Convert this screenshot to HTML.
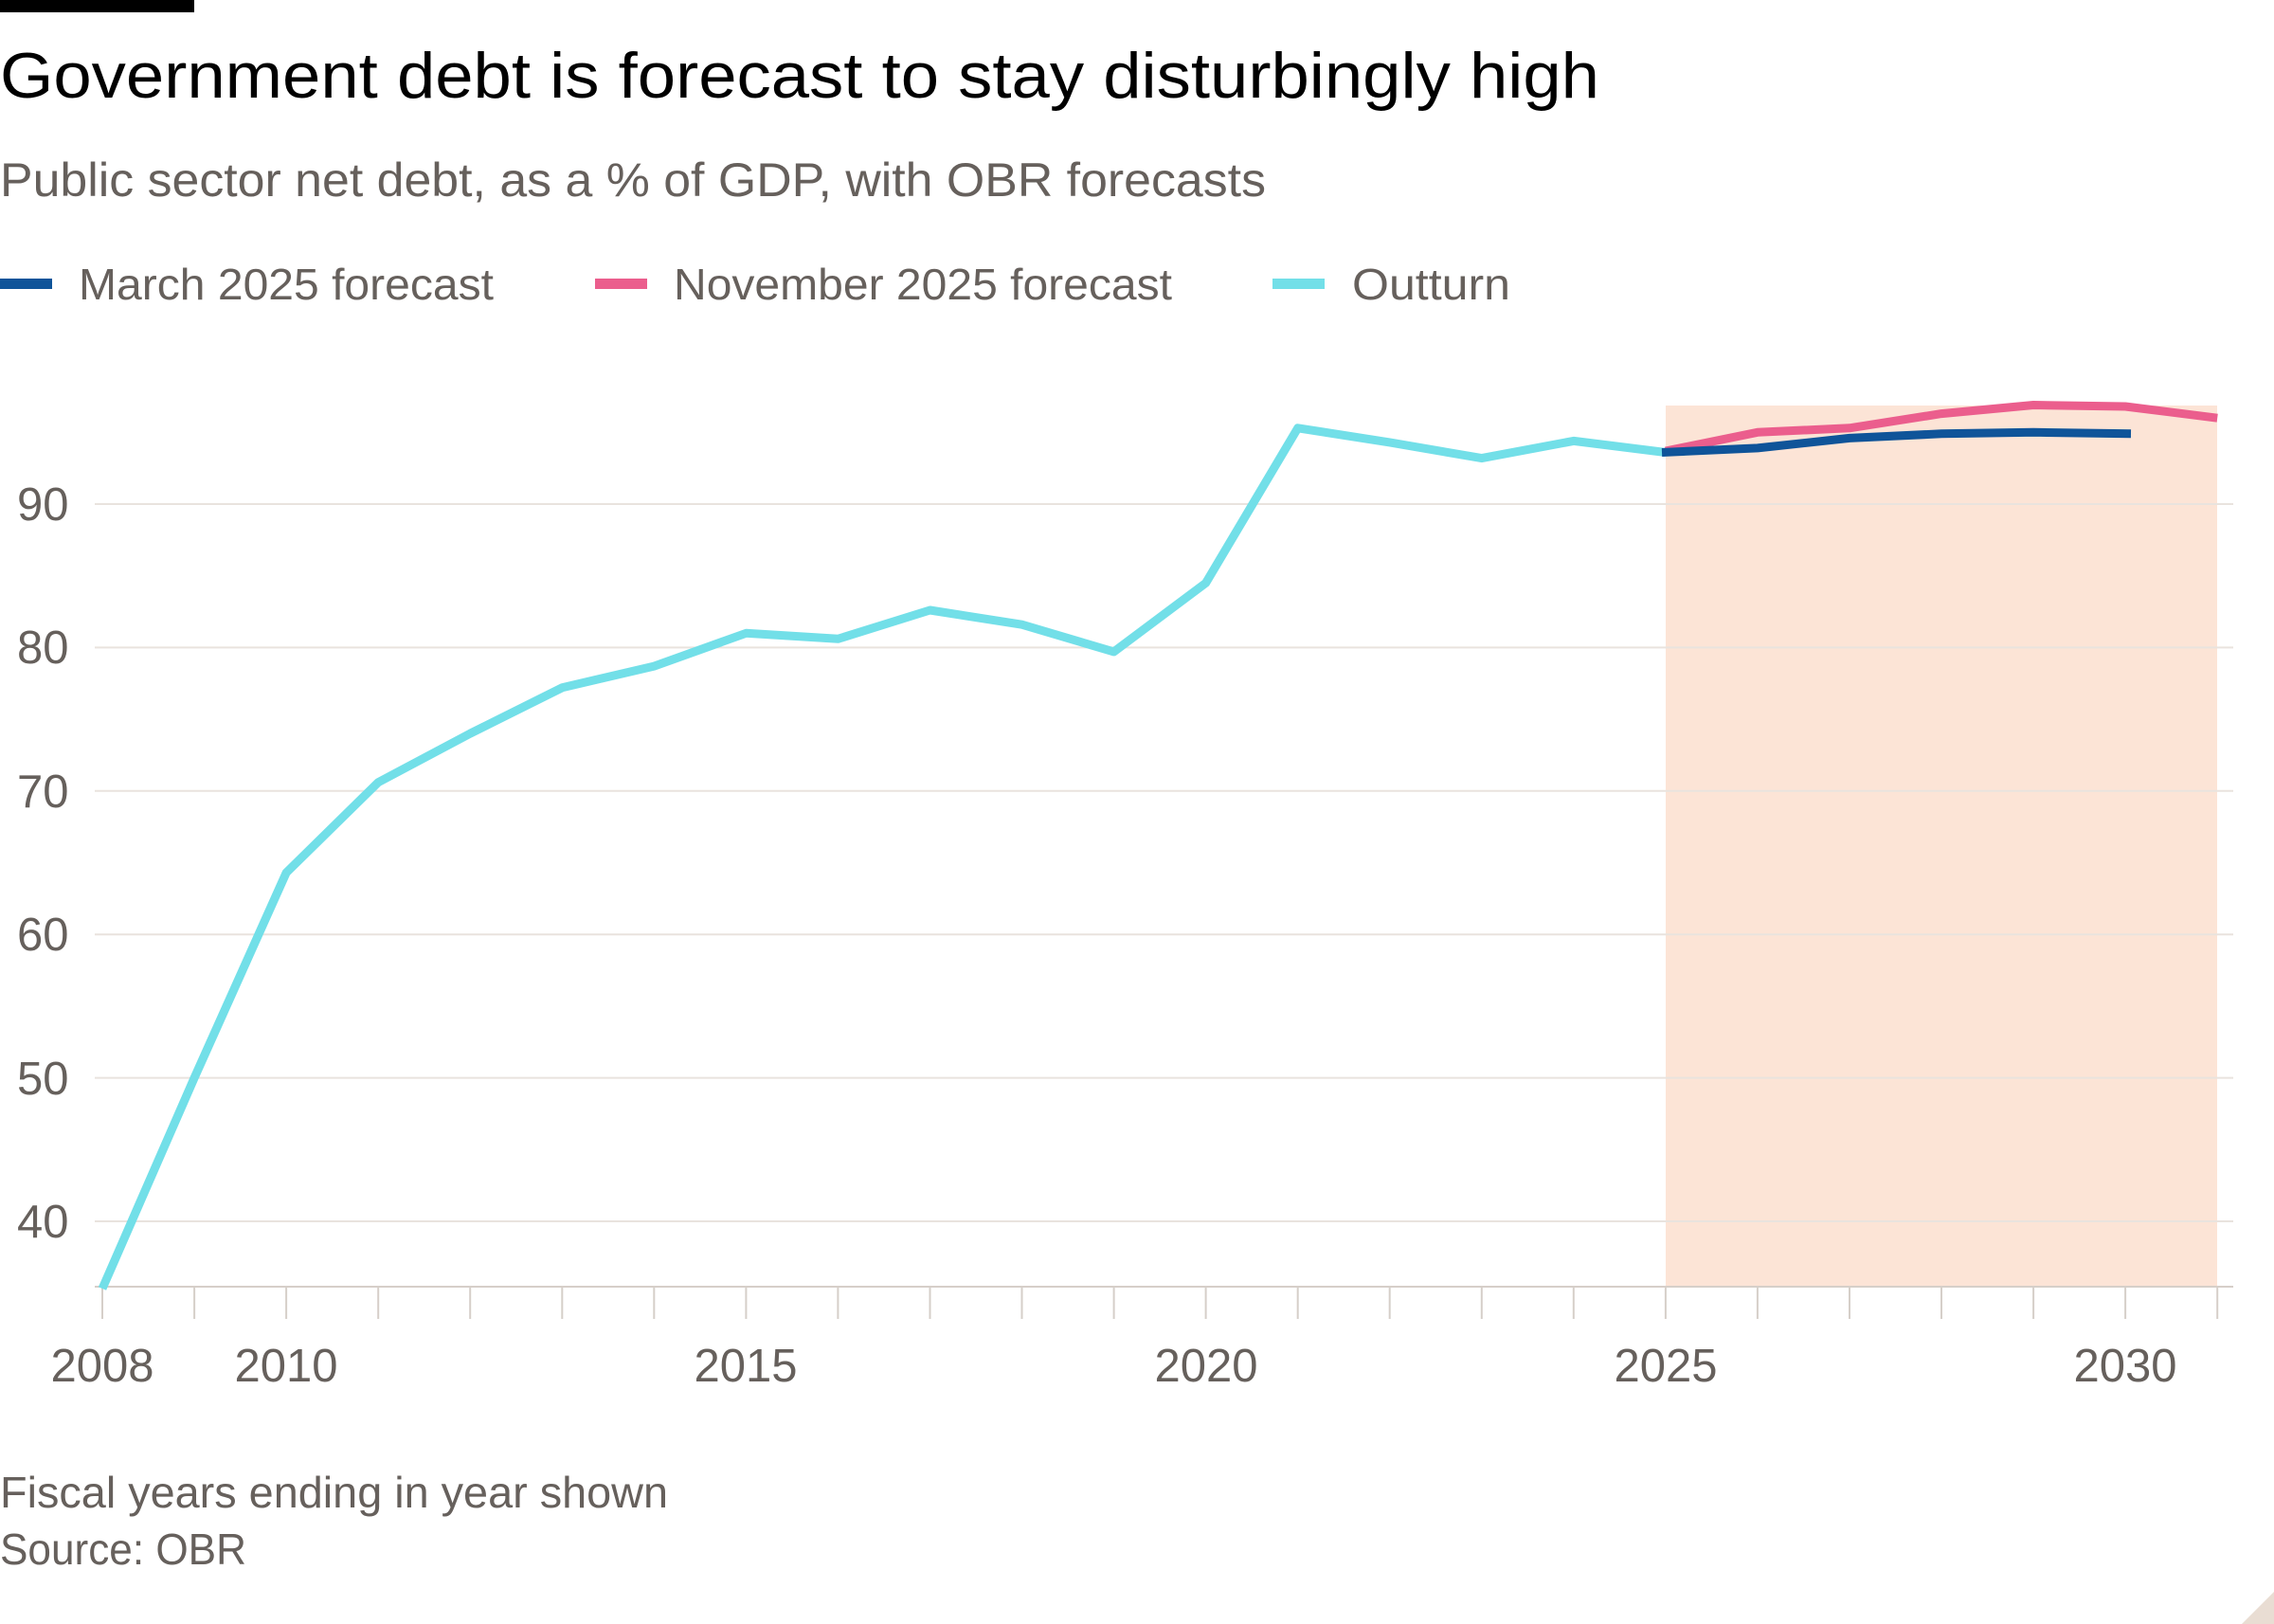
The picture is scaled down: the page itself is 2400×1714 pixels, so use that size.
<!DOCTYPE html>
<html><head><meta charset="utf-8"><style>
html,body{margin:0;padding:0;background:#fff;}
svg{display:block;}
text{font-family:"Liberation Sans",sans-serif;}
</style></head><body>
<svg width="2400" height="1714" viewBox="0 0 2400 1714" xmlns="http://www.w3.org/2000/svg">
<rect x="0" y="0" width="2400" height="1714" fill="#fff"/>
<rect x="0" y="0" width="205" height="13" fill="#000"/>
<text x="0" y="103" font-size="68" fill="#000" textLength="1688" lengthAdjust="spacingAndGlyphs">Government debt is forecast to stay disturbingly high</text>
<text x="0" y="207" font-size="50" fill="#66605c" textLength="1336" lengthAdjust="spacingAndGlyphs">Public sector net debt, as a % of GDP, with OBR forecasts</text>
<rect x="0" y="294" width="55" height="11" fill="#0f5499"/>
<text x="83" y="316" font-size="46" fill="#66605c" textLength="438" lengthAdjust="spacingAndGlyphs">March 2025 forecast</text>
<rect x="628" y="294" width="55" height="11" fill="#eb5e8d"/>
<text x="711" y="316" font-size="46" fill="#66605c" textLength="526" lengthAdjust="spacingAndGlyphs">November 2025 forecast</text>
<rect x="1343" y="294" width="55" height="11" fill="#72dfe8"/>
<text x="1427" y="316" font-size="46" fill="#66605c" textLength="167" lengthAdjust="spacingAndGlyphs">Outturn</text>

<rect x="1758" y="428" width="582" height="930" fill="#fce4d6"/>
<g stroke="#e9e3de" stroke-width="2">
<line x1="100" y1="532" x2="2357" y2="532"/>
<line x1="100" y1="683.4" x2="2357" y2="683.4"/>
<line x1="100" y1="834.8" x2="2357" y2="834.8"/>
<line x1="100" y1="986.2" x2="2357" y2="986.2"/>
<line x1="100" y1="1137.6" x2="2357" y2="1137.6"/>
<line x1="100" y1="1289" x2="2357" y2="1289"/>
<line x1="100" y1="1358" x2="2357" y2="1358" stroke="#d6cfc9"/>
</g>
<g stroke="#d6cfc9" stroke-width="2">
<line x1="108" y1="1358" x2="108" y2="1392"/><line x1="205.1" y1="1358" x2="205.1" y2="1392"/><line x1="302.1" y1="1358" x2="302.1" y2="1392"/><line x1="399.2" y1="1358" x2="399.2" y2="1392"/><line x1="496.2" y1="1358" x2="496.2" y2="1392"/><line x1="593.3" y1="1358" x2="593.3" y2="1392"/><line x1="690.3" y1="1358" x2="690.3" y2="1392"/><line x1="787.4" y1="1358" x2="787.4" y2="1392"/><line x1="884.4" y1="1358" x2="884.4" y2="1392"/><line x1="981.5" y1="1358" x2="981.5" y2="1392"/><line x1="1078.5" y1="1358" x2="1078.5" y2="1392"/><line x1="1175.6" y1="1358" x2="1175.6" y2="1392"/><line x1="1272.6" y1="1358" x2="1272.6" y2="1392"/><line x1="1369.7" y1="1358" x2="1369.7" y2="1392"/><line x1="1466.7" y1="1358" x2="1466.7" y2="1392"/><line x1="1563.8" y1="1358" x2="1563.8" y2="1392"/><line x1="1660.8" y1="1358" x2="1660.8" y2="1392"/><line x1="1757.9" y1="1358" x2="1757.9" y2="1392"/><line x1="1854.9" y1="1358" x2="1854.9" y2="1392"/><line x1="1952" y1="1358" x2="1952" y2="1392"/><line x1="2049" y1="1358" x2="2049" y2="1392"/><line x1="2146.1" y1="1358" x2="2146.1" y2="1392"/><line x1="2243.1" y1="1358" x2="2243.1" y2="1392"/><line x1="2340.2" y1="1358" x2="2340.2" y2="1392"/>
</g>
<g font-size="49" fill="#66605c">
<text x="18" y="549">90</text>
<text x="18" y="700">80</text>
<text x="18" y="852">70</text>
<text x="18" y="1003">60</text>
<text x="18" y="1155">50</text>
<text x="18" y="1306">40</text>
</g>
<g font-size="49" fill="#66605c" text-anchor="middle">
<text x="108" y="1458">2008</text>
<text x="302" y="1458">2010</text>
<text x="787" y="1458">2015</text>
<text x="1273" y="1458">2020</text>
<text x="1758" y="1458">2025</text>
<text x="2243" y="1458">2030</text>
</g>
<g fill="none" stroke-width="9" stroke-linejoin="round">
<polyline stroke="#72dfe8" points="108,1360 205.1,1137.6 302.1,921.1 399.2,825.7 496.2,774.2 593.3,725.8 690.3,703.1 787.4,668.3 884.4,674.3 981.5,644 1078.5,659.2 1175.6,687.9 1272.6,615.3 1369.7,451.8 1466.7,466.9 1563.8,483.6 1660.8,465.4 1757.9,477.5"/>
<polyline stroke="#eb5e8d" points="1757.9,476 1854.9,456.3 1952,451.8 2049,436.6 2146.1,427.5 2243.1,429 2340.2,441.2"/>
<polyline stroke="#0f5499" points="1754,477.5 1854.9,472.9 1952,462.4 2049,457.8 2146.1,456.3 2249,457.8"/>
</g>
<text x="0" y="1591" font-size="46" fill="#66605c" textLength="705" lengthAdjust="spacingAndGlyphs">Fiscal years ending in year shown</text>
<text x="0" y="1651" font-size="46" fill="#66605c" textLength="260" lengthAdjust="spacingAndGlyphs">Source: OBR</text>
<polygon points="2400,1680 2400,1714 2366,1714" fill="#e9ddd3"/>
</svg>
</body></html>
